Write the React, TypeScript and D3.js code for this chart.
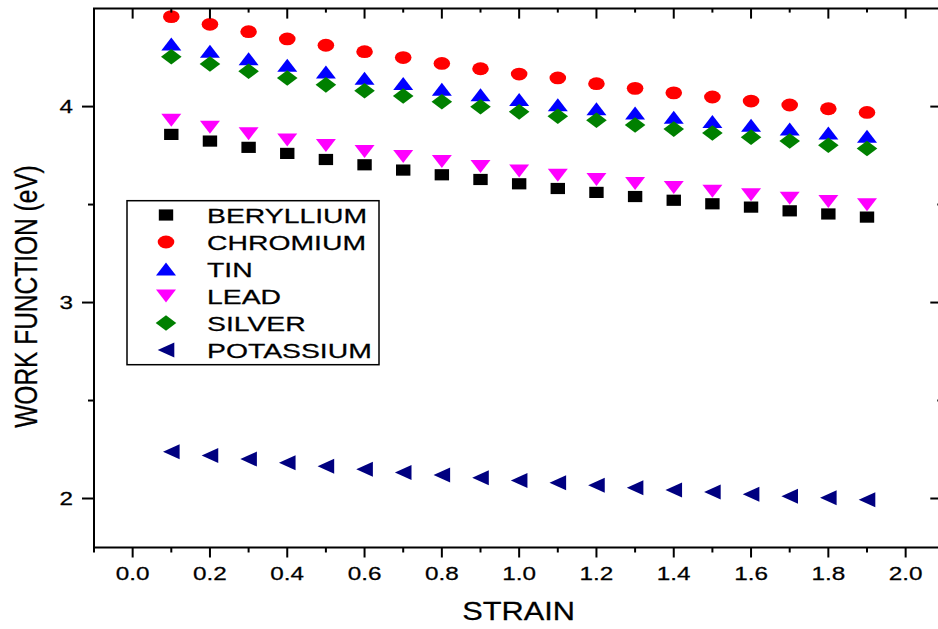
import React, { useEffect, useRef } from "react";
import * as d3 from "d3";

// strain values on the x axis
const strain = [0.1, 0.2, 0.3, 0.4, 0.5, 0.6, 0.7, 0.8, 0.9, 1.0, 1.1, 1.2, 1.3, 1.4, 1.5, 1.6, 1.7, 1.8, 1.9];

// work function (eV) per metal
const beryllium = [3.858, 3.824, 3.792, 3.761, 3.73, 3.703, 3.676, 3.652, 3.628, 3.606, 3.582, 3.562, 3.541, 3.522, 3.504, 3.487, 3.468, 3.452, 3.436];
const chromium = [4.459, 4.42, 4.382, 4.345, 4.313, 4.28, 4.25, 4.22, 4.193, 4.166, 4.146, 4.117, 4.093, 4.07, 4.049, 4.028, 4.008, 3.989, 3.97];
const tin = [4.319, 4.282, 4.244, 4.21, 4.176, 4.144, 4.117, 4.088, 4.06, 4.035, 4.009, 3.989, 3.967, 3.945, 3.924, 3.904, 3.885, 3.865, 3.848];
const lead = [3.931, 3.895, 3.862, 3.83, 3.802, 3.771, 3.746, 3.72, 3.695, 3.672, 3.65, 3.628, 3.608, 3.587, 3.568, 3.551, 3.533, 3.516, 3.499];
const silver = [4.254, 4.217, 4.18, 4.146, 4.111, 4.081, 4.054, 4.025, 3.999, 3.973, 3.951, 3.93, 3.906, 3.885, 3.865, 3.844, 3.824, 3.803, 3.786];
const potassium = [2.239, 2.22, 2.201, 2.183, 2.165, 2.149, 2.133, 2.12, 2.106, 2.092, 2.08, 2.068, 2.055, 2.043, 2.033, 2.022, 2.012, 2.004, 1.994];

const xTicks = [0.0, 0.2, 0.4, 0.6, 0.8, 1.0, 1.2, 1.4, 1.6, 1.8, 2.0];
const xMinor = [-0.1, 0.1, 0.3, 0.5, 0.7, 0.9, 1.1, 1.3, 1.5, 1.7, 1.9, 2.1];
const yTicks = [2, 3, 4];
const yMinor = [2.5, 3.5];

const series = [
  { name: "BERYLLIUM", values: beryllium, color: "#000000", shape: "square" },
  { name: "CHROMIUM", values: chromium, color: "#ff0000", shape: "circle" },
  { name: "TIN", values: tin, color: "#0000ff", shape: "up" },
  { name: "LEAD", values: lead, color: "#ff00ff", shape: "down" },
  { name: "SILVER", values: silver, color: "#008000", shape: "diamond" },
  { name: "POTASSIUM", values: potassium, color: "#000080", shape: "left" },
];

const SX = 1.35; // the original picture is stretched sideways
const FONT = "'Liberation Sans', Arial, sans-serif";

// marker outline centred on 0,0
function markerPath(shape: string) {
  switch (shape) {
    case "square":
      return "M-7.2,-5.6H7.2V5.6H-7.2Z";
    case "circle":
      return "M-8.3,0A8.3,6.4 0 1,0 8.3,0A8.3,6.4 0 1,0 -8.3,0Z";
    case "up":
      return "M0,-6.6L10,6.4L-10,6.4Z";
    case "down":
      return "M0,6.6L10,-6.4L-10,-6.4Z";
    case "diamond":
      return "M0,-7.8L10.3,0L0,7.8L-10.3,0Z";
    default:
      return "M-8.3,0L8.3,-7.5L8.3,7.5Z";
  }
}

export default function App() {
  const ref = useRef<SVGSVGElement>(null);

  useEffect(() => {
    const svg = d3.select(ref.current);
    svg.selectAll("*").remove();

    const x = d3.scaleLinear().domain([-0.1, 2.1]).range([94, 944.3]);
    const y = d3.scaleLinear().domain([1.75, 4.5]).range([547.5, 8.6]);
    const [x0, x1] = x.range();
    const [yb, yt] = y.range();

    const label = (tx: number, ty: number, str: string, size: number, anchor: string, sx = SX, rot = 0) =>
      svg
        .append("g")
        .attr("transform", `translate(${tx},${ty}) scale(${sx},1)` + (rot ? ` rotate(${rot})` : ""))
        .append("text")
        .attr("text-anchor", anchor)
        .attr("font-family", FONT)
        .attr("font-size", size)
        .attr("fill", "#000")
        .attr("stroke", "#000")
        .attr("stroke-width", 0.25)
        .text(str);

    // data points
    series.forEach((s) => {
      svg
        .append("g")
        .selectAll("path")
        .data(s.values)
        .enter()
        .append("path")
        .attr("d", markerPath(s.shape))
        .attr("transform", (d, i) => `translate(${x(strain[i])},${y(d)})`)
        .attr("fill", s.color);
    });

    // frame
    const axis = svg.append("g").attr("stroke", "#000").attr("stroke-width", 2).attr("fill", "none");
    axis.append("path").attr("d", `M${x0},${yt}V${yb}H${x1}V${yt}Z`);

    // x ticks: bottom outward, top inward
    xTicks.forEach((t) => {
      axis.append("line").attr("x1", x(t)).attr("x2", x(t)).attr("y1", yb).attr("y2", yb + 10);
      axis.append("line").attr("x1", x(t)).attr("x2", x(t)).attr("y1", yt).attr("y2", yt + 10);
      label(x(t), 580, t.toFixed(1), 18, "middle");
    });
    xMinor.forEach((t) => {
      axis.append("line").attr("x1", x(t)).attr("x2", x(t)).attr("y1", yb).attr("y2", yb + 5);
      axis.append("line").attr("x1", x(t)).attr("x2", x(t)).attr("y1", yt).attr("y2", yt + 4);
    });

    // y ticks: left outward, right inward
    yTicks.forEach((t) => {
      axis.append("line").attr("x1", x0 - 12).attr("x2", x0).attr("y1", y(t)).attr("y2", y(t));
      axis.append("line").attr("x1", x1).attr("x2", x1 - 14).attr("y1", y(t)).attr("y2", y(t));
      label(73, y(t) + 6.5, String(t), 18, "end");
    });
    yMinor.forEach((t) => {
      axis.append("line").attr("x1", x0 - 6).attr("x2", x0).attr("y1", y(t)).attr("y2", y(t));
      axis.append("line").attr("x1", x1).attr("x2", x1 - 7).attr("y1", y(t)).attr("y2", y(t));
    });

    // axis titles
    label(518.5, 620, "STRAIN", 25, "middle", 1.23);
    label(37, 296.5, "WORK FUNCTION (eV)", 24.5, "middle", 1.25, -90);

    // legend
    svg
      .append("rect")
      .attr("x", 127)
      .attr("y", 200.7)
      .attr("width", 252)
      .attr("height", 164)
      .attr("fill", "#fff")
      .attr("stroke", "#000")
      .attr("stroke-width", 1.5);
    series.forEach((s, i) => {
      const ly = 215 + i * 27;
      svg.append("path").attr("d", markerPath(s.shape)).attr("transform", `translate(166,${ly})`).attr("fill", s.color);
      label(207, ly + 7.5, s.name, 21, "start");
    });
  }, []);

  return (
    <svg
      ref={ref}
      width={938}
      height={629}
      style={{ position: "absolute", left: 0, top: 0, background: "#fff" }}
    />
  );
}
